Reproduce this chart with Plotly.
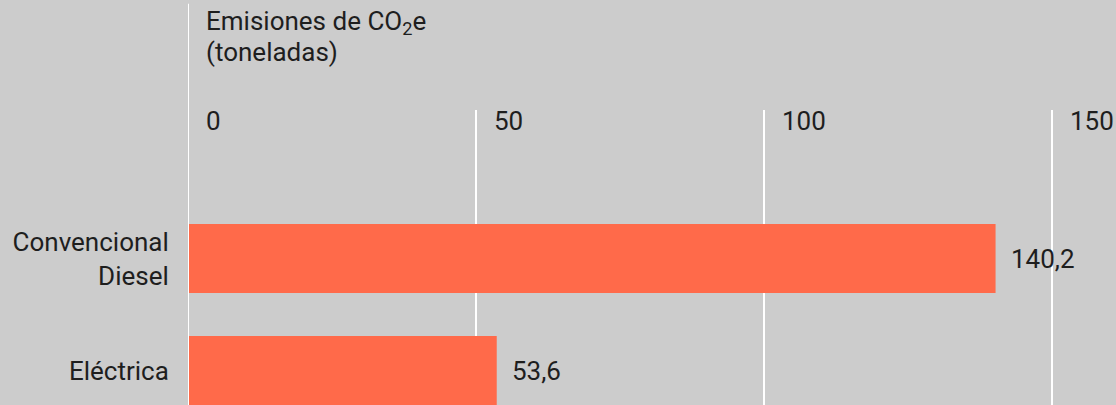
import plotly.graph_objects as go

categories = ["Convencional<br>Diesel", "Eléctrica"]
values = [140.2, 53.6]
tick_vals = [0, 50, 100, 150]
tick_labels = ["0", "50", "100", "150"]
title_lines = ["Emisiones de CO<sub>2</sub>e", "(toneladas)"]

BG = "#cccccc"
BAR = "#ff6a4a"
TXT = "#1e1e1e"
FONT = "Roboto"
FS = 26

fig = go.Figure()
fig.add_trace(go.Bar(
    x=values, y=categories, orientation="h",
    marker=dict(color=BAR, line=dict(width=0)),
    hoverinfo="skip",
))

# value labels
for v, c in zip(values, categories):
    fig.add_annotation(x=v, y=c, xref="x", yref="y", text=f"{v:.1f}".replace(".", ","),
                       showarrow=False, xanchor="left", xshift=13,
                       font=dict(family=FONT, size=FS, color=TXT))

# top tick labels
for tv, tl in zip(tick_vals, tick_labels):
    fig.add_annotation(x=tv, y=1, xref="x", yref="paper", text=tl, showarrow=False,
                       xanchor="left", yanchor="middle", xshift=16, yshift=-11,
                       font=dict(family=FONT, size=FS, color=TXT))

# title (two lines)
for i, line in enumerate(title_lines):
    fig.add_annotation(x=0, y=1, xref="x", yref="paper", text=line, showarrow=False,
                       xanchor="left", yanchor="middle", xshift=16, yshift=88 - 30 * i,
                       align="left", font=dict(family=FONT, size=FS, color=TXT))

# zero axis line extending up
fig.add_shape(type="line", x0=0, x1=0, xref="x", y0=0, y1=1.36, yref="paper",
              line=dict(color="white", width=2), layer="above")

fig.update_layout(
    width=1116, height=405,
    margin=dict(l=188, r=0, t=110, b=0, pad=0),
    paper_bgcolor=BG, plot_bgcolor=BG,
    showlegend=False,
    bargap=0.384,
    font=dict(family=FONT, size=FS, color=TXT),
    xaxis=dict(range=[0, 161.11], tickvals=tick_vals, showticklabels=False,
               showgrid=True, gridcolor="white", gridwidth=2, zeroline=False,
               showline=False, fixedrange=True),
    yaxis=dict(range=[1.308, -1.326], showgrid=False, zeroline=False, showline=False,
               ticks="outside", ticklen=13, tickcolor=BG,
               tickfont=dict(family=FONT, size=FS, color=TXT), fixedrange=True),
)

fig.write_html("out.html")
